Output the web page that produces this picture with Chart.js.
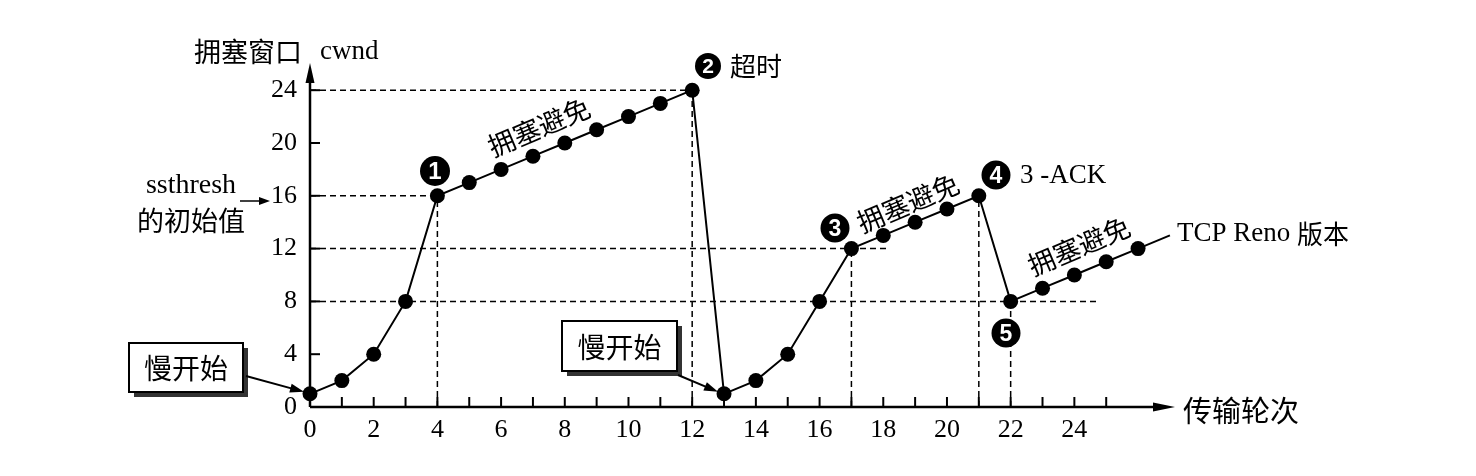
<!DOCTYPE html>
<html>
<head>
<meta charset="utf-8">
<script src="https://cdn.jsdelivr.net/npm/chart.js@4.4.0/dist/chart.umd.min.js"></script>
<style>
  body { margin: 0; background: #fff; }
  canvas { display: block; }
</style>
</head>
<body>
<canvas id="cwnd" width="1476" height="476"></canvas>
<script>
// transmission rounds and congestion window
const rounds = [0, 1, 2, 3, 4, 5, 6, 7, 8, 9, 10, 11, 12, 13, 14, 15, 16, 17, 18, 19, 20, 21, 22, 23, 24, 25, 26]
const cwnd = [1, 2, 4, 8, 16, 17, 18, 19, 20, 21, 22, 23, 24, 1, 2, 4, 8, 12, 13, 14, 15, 16, 8, 9, 10, 11, 12]
// the line runs on a little past the last round
const tailRounds = [26, 27]
const tailCwnd = [12, 13]

const xTickLabels = [0, 2, 4, 6, 8, 10, 12, 14, 16, 18, 20, 22, 24]
const yTickLabels = [0, 4, 8, 12, 16, 20, 24]
const xMinorTicks = [1, 2, 3, 4, 5, 6, 7, 8, 9, 10, 11, 12, 13, 14, 15, 16, 17, 18, 19, 20, 21, 22, 23, 24, 25]

// dashed guides: [cwnd, from round, to round] and [round, up to cwnd]
const guideH = [[24, 0, 12], [16, 0, 4], [12, 0, 18.1], [8, 0, 24.7]]
const guideV = [[4, 16], [12, 24], [17, 12], [21, 16], [22, 8]]

const serif = '"Liberation Serif", "DejaVu Serif", serif'
const cjk = '"Noto Sans CJK SC", sans-serif'

function arrow(ctx, x0, y0, x1, y1, len, half) {
  const a = Math.atan2(y1 - y0, x1 - x0)
  ctx.beginPath()
  ctx.moveTo(x0, y0)
  ctx.lineTo(x1 - Math.cos(a) * len * 0.6, y1 - Math.sin(a) * len * 0.6)
  ctx.stroke()
  ctx.beginPath()
  ctx.moveTo(x1, y1)
  ctx.lineTo(x1 - Math.cos(a) * len - Math.sin(a) * half, y1 - Math.sin(a) * len + Math.cos(a) * half)
  ctx.lineTo(x1 - Math.cos(a) * len + Math.sin(a) * half, y1 - Math.sin(a) * len - Math.cos(a) * half)
  ctx.closePath()
  ctx.fill()
}

function badge(ctx, cx, cy, r, num) {
  ctx.beginPath()
  ctx.arc(cx, cy, r, 0, Math.PI * 2)
  ctx.fillStyle = '#000'
  ctx.fill()
  ctx.fillStyle = '#fff'
  ctx.font = 'bold ' + Math.round(r * 1.6) + 'px "Liberation Sans", sans-serif'
  ctx.textAlign = 'center'
  ctx.textBaseline = 'middle'
  ctx.fillText(num, cx, cy + 1.5)
  ctx.fillStyle = '#000'
}

function box(ctx, x, y, w, h, text) {
  ctx.fillStyle = '#333'
  ctx.fillRect(x + 5, y + 5, w, h)
  ctx.fillStyle = '#fff'
  ctx.fillRect(x, y, w, h)
  ctx.lineWidth = 2
  ctx.strokeRect(x, y, w, h)
  ctx.fillStyle = '#000'
  ctx.font = '28px ' + cjk
  ctx.textAlign = 'center'
  ctx.textBaseline = 'middle'
  ctx.fillText(text, x + w / 2, y + h / 2 + 1)
}

function slanted(ctx, cx, cy, deg, text) {
  ctx.save()
  ctx.translate(cx, cy)
  ctx.rotate(-deg * Math.PI / 180)
  ctx.font = '27px ' + cjk
  ctx.textAlign = 'center'
  ctx.textBaseline = 'middle'
  ctx.fillText(text, 0, 0)
  ctx.restore()
}

const figure = {
  id: 'figure',
  beforeDatasetsDraw(chart) {
    const { ctx, scales: { x, y } } = chart
    ctx.save()
    ctx.strokeStyle = '#000'
    ctx.lineWidth = 1.5
    ctx.setLineDash([6, 4])
    guideH.forEach(([v, r0, r1]) => {
      ctx.beginPath()
      ctx.moveTo(x.getPixelForValue(r0), y.getPixelForValue(v))
      ctx.lineTo(x.getPixelForValue(r1), y.getPixelForValue(v))
      ctx.stroke()
    })
    guideV.forEach(([r, v]) => {
      ctx.beginPath()
      ctx.moveTo(x.getPixelForValue(r), y.getPixelForValue(0))
      ctx.lineTo(x.getPixelForValue(r), y.getPixelForValue(v))
      ctx.stroke()
    })
    ctx.restore()
  },
  afterDraw(chart) {
    const { ctx, chartArea: area, scales: { x, y } } = chart
    const x0 = x.getPixelForValue(0)
    const y0 = y.getPixelForValue(0)
    ctx.save()
    ctx.strokeStyle = '#000'
    ctx.fillStyle = '#000'

    // axes with arrow heads
    ctx.lineWidth = 2.5
    arrow(ctx, x0, y0, x0, area.top, 20, 4.5)
    arrow(ctx, x0, y0, area.right, y0, 22, 4.5)

    // tick marks drawn inward
    ctx.lineWidth = 2
    xMinorTicks.forEach(r => {
      const px = x.getPixelForValue(r)
      ctx.beginPath()
      ctx.moveTo(px, y0)
      ctx.lineTo(px, y0 - 10)
      ctx.stroke()
    })
    yTickLabels.slice(1).forEach(v => {
      const py = y.getPixelForValue(v)
      ctx.beginPath()
      ctx.moveTo(x0, py)
      ctx.lineTo(x0 + 10, py)
      ctx.stroke()
    })

    // axis titles
    ctx.textBaseline = 'middle'
    ctx.textAlign = 'left'
    ctx.font = '27px ' + cjk
    ctx.fillText('拥塞窗口', 194, 52)
    ctx.font = '27px ' + serif
    ctx.fillText('cwnd', 320, 52)
    ctx.font = '29px ' + cjk
    ctx.fillText('传输轮次', 1183, 411)

    // initial ssthresh
    ctx.textAlign = 'center'
    ctx.font = '28px ' + serif
    ctx.fillText('ssthresh', 191, 186)
    ctx.font = '27px ' + cjk
    ctx.fillText('的初始值', 191, 221)
    ctx.lineWidth = 1.5
    arrow(ctx, 240, 201, 270, 201, 11, 4)

    // slow start boxes
    box(ctx, 129, 343, 114, 49, '慢开始')
    arrow(ctx, 246, 376, x.getPixelForValue(rounds[0]) - 6, y.getPixelForValue(cwnd[0]) - 2, 14, 4.5)
    box(ctx, 562, 321, 115, 50, '慢开始')
    arrow(ctx, 678, 375, x.getPixelForValue(rounds[13]) - 6, y.getPixelForValue(cwnd[13]) - 2, 14, 4.5)

    // congestion avoidance labels
    slanted(ctx, 539, 127, 23, '拥塞避免')
    slanted(ctx, 908, 203, 23, '拥塞避免')
    slanted(ctx, 1079, 246, 23, '拥塞避免')

    // numbered events
    badge(ctx, 435, 171, 15, '1')
    badge(ctx, 708, 66, 13, '2')
    ctx.textAlign = 'left'
    ctx.font = '26px ' + cjk
    ctx.fillText('超时', 730, 66)
    badge(ctx, 835, 228, 14.5, '3')
    badge(ctx, 996, 175, 14.5, '4')
    ctx.textAlign = 'left'
    ctx.font = '27px ' + serif
    ctx.fillText('3 -ACK', 1020, 176)
    badge(ctx, 1006, 333, 14.5, '5')

    ctx.textAlign = 'left'
    ctx.font = '27px ' + serif
    ctx.fillText('TCP Reno', 1177, 234)
    const w = ctx.measureText('TCP Reno ').width
    ctx.font = '26px ' + cjk
    ctx.fillText('版本', 1177 + w, 234)
    ctx.restore()
  }
}

new Chart(document.getElementById('cwnd'), {
  type: 'line',
  data: {
    datasets: [{
      label: 'cwnd',
      data: rounds.map((r, i) => ({ x: r, y: cwnd[i] })),
      borderColor: '#000',
      borderWidth: 2,
      pointRadius: 7.5,
      pointBackgroundColor: '#000',
      pointBorderWidth: 0,
      tension: 0,
      clip: false
    }, {
      label: 'tail',
      data: tailRounds.map((r, i) => ({ x: r, y: tailCwnd[i] })),
      borderColor: '#000',
      borderWidth: 2,
      pointRadius: 0,
      clip: false
    }]
  },
  options: {
    responsive: false,
    animation: false,
    devicePixelRatio: 1,
    layout: { padding: { top: 63, right: 301, left: 0, bottom: 0 } },
    plugins: { legend: { display: false }, tooltip: { enabled: false } },
    scales: {
      x: {
        type: 'linear',
        min: 0,
        max: 27.16,
        grid: { display: false, drawTicks: false },
        border: { display: false },
        afterBuildTicks: scale => { scale.ticks = xTickLabels.map(v => ({ value: v })) },
        afterFit: scale => { scale.height = 69 },
        ticks: { color: '#000', font: { family: serif, size: 26 }, padding: 8, maxRotation: 0, autoSkip: false }
      },
      y: {
        min: 0,
        max: 26.06,
        grid: { display: false, drawTicks: false },
        border: { display: false },
        afterBuildTicks: scale => { scale.ticks = yTickLabels.map(v => ({ value: v })) },
        afterFit: scale => { scale.width = 310 },
        ticks: { color: '#000', font: { family: serif, size: 26 }, padding: 13 }
      }
    }
  },
  plugins: [figure]
})
</script>
</body>
</html>
